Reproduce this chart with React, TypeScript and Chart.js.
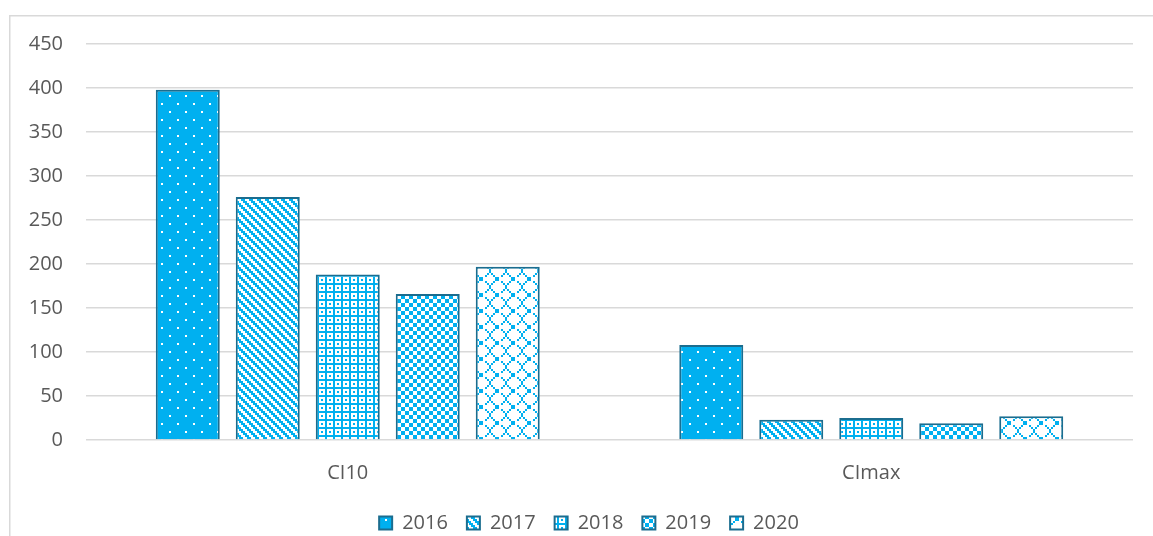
import React, { useEffect, useRef } from "react";
import { Chart, registerables } from "chart.js";

Chart.register(...registerables);

// ---- data ----
const categories = ["CI10", "CImax"];
const seriesLabels = ["2016", "2017", "2018", "2019", "2020"];
const values2016 = [398, 108];
const values2017 = [276, 23];
const values2018 = [188, 25];
const values2019 = [166, 19];
const values2020 = [197, 27];
const yMin = 0;
const yMax = 450;
const yStep = 50;

// ---- styles ----
const BLUE = "#00B0F0";
const BORDER = "#1b6d8f";
const TEXT = "#595959";
const GRID = "#d9d9d9";
const FONT = "'Open Sans', 'Liberation Sans', sans-serif";

// pattern bitmaps ('X' = blue, '.' = white)
const pat2016 = [
  ".XXXXXXX",
  "XXXXXXXX",
  "XXXXXXXX",
  "XXXXXXXX",
  "XXXX.XXX",
  "XXXXXXXX",
  "XXXXXXXX",
  "XXXXXXXX",
];
const pat2017 = ["XX..", ".XX.", "..XX", "X..X"];
const pat2018 = ["X.X.X.X.", "..X...X.", "XXXXXXXX", "..X...X."];
const pat2019 = ["XX..", "XX..", "..XX", "..XX"];
const pat2020 = [
  "X.......",
  ".X.....X",
  "..X...X.",
  "...XX...",
  "...XX...",
  "..X...X.",
  ".X.....X",
  "X.......",
];

function makePattern(ctx: CanvasRenderingContext2D, rows: string[], scale: number) {
  const h = rows.length;
  const w = rows[0].length;
  const tile = document.createElement("canvas");
  tile.width = w * scale;
  tile.height = h * scale;
  const t = tile.getContext("2d")!;
  t.fillStyle = "#ffffff";
  t.fillRect(0, 0, tile.width, tile.height);
  t.fillStyle = BLUE;
  for (let y = 0; y < h; y++) {
    for (let x = 0; x < w; x++) {
      if (rows[y][x] === "X") t.fillRect(x * scale, y * scale, scale, scale);
    }
  }
  return ctx.createPattern(tile, "repeat")!;
}

const framePlugin = {
  id: "frame",
  afterDraw(chart: any) {
    const c = chart.ctx;
    c.save();
    c.strokeStyle = GRID;
    c.lineWidth = 1.5;
    c.strokeRect(0.75, 0.75, chart.width - 1.5, chart.height - 1.5);
    c.restore();
  },
};

export default function App() {
  const ref = useRef<HTMLCanvasElement>(null);

  useEffect(() => {
    const canvas = ref.current!;
    const ctx = canvas.getContext("2d")!;
    const patterns = [pat2016, pat2017, pat2018, pat2019, pat2020].map((p) =>
      makePattern(ctx, p, 2)
    );
    const series = [values2016, values2017, values2018, values2019, values2020];

    const chart = new Chart(canvas, {
      type: "bar",
      data: {
        labels: categories,
        datasets: series.map((vals, i) => ({
          label: seriesLabels[i],
          data: vals,
          backgroundColor: patterns[i],
          borderColor: BORDER,
          borderWidth: 2,
          categoryPercentage: 0.764,
          barPercentage: 0.8,
          yAxisID: "y",
        })),
      },
      options: {
        animation: false,
        responsive: true,
        maintainAspectRatio: false,
        layout: { padding: { left: 0, right: 0, top: 29, bottom: 2 } },
        scales: {
          x: {
            grid: { display: false },
            border: { display: false },
            ticks: { color: TEXT, font: { family: FONT, size: 20 }, padding: 13 },
            afterFit: (s: any) => {
              s.height = 54;
            },
          },
          y: {
            min: yMin,
            max: yMax,
            ticks: {
              stepSize: yStep,
              color: TEXT,
              font: { family: FONT, size: 20 },
              padding: 23,
            },
            grid: { color: GRID, lineWidth: 1.5, drawTicks: false },
            border: { display: false },
            afterFit: (s: any) => {
              s.width = 77;
              s.paddingTop = 0;
              s.paddingBottom = 0;
            },
          },
          y2: {
            type: "linear",
            position: "right",
            grid: { display: false },
            border: { display: false },
            ticks: { display: false },
            afterFit: (s: any) => {
              s.width = 36;
              s.paddingTop = 0;
              s.paddingBottom = 0;
            },
          },
        },
        plugins: {
          legend: {
            position: "bottom",
            labels: {
              boxWidth: 13,
              boxHeight: 13,
              padding: 19,
              color: TEXT,
              font: { family: FONT, size: 20 },
            },
          },
          tooltip: { enabled: false },
        },
      },
      plugins: [framePlugin],
    });
    return () => chart.destroy();
  }, []);

  return (
    <div
      style={{
        position: "fixed",
        left: 0,
        top: 0,
        width: 1153,
        height: 536,
        overflow: "hidden",
        background: "#fff",
      }}
    >
      <div style={{ position: "absolute", left: 9, top: 15, width: 1160, height: 530 }}>
        <canvas ref={ref} />
      </div>
    </div>
  );
}
